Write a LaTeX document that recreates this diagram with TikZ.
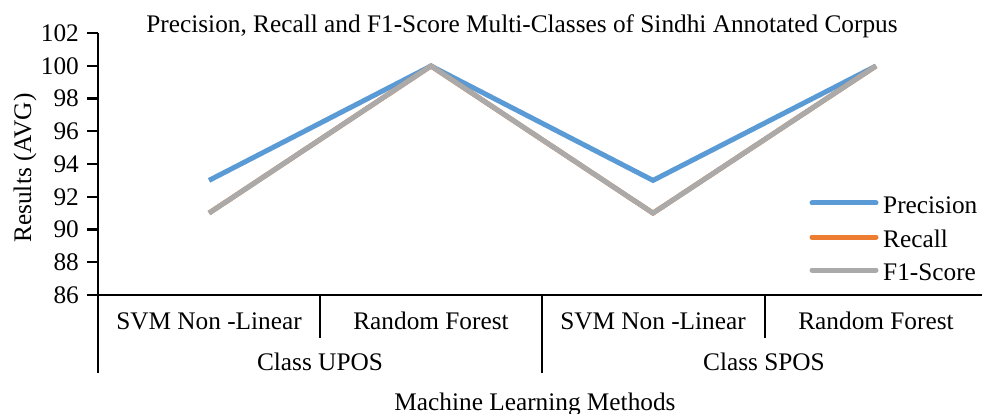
\documentclass[tikz,border=0pt]{standalone}
\usepackage{fontspec}
\setmainfont{Liberation Serif}
\definecolor{cprec}{HTML}{5B9BD5}
\definecolor{crec}{HTML}{ED7D31}
\definecolor{cf1}{HTML}{AAAAAA}
\begin{document}
\begin{tikzpicture}[x=1pt,y=-1pt,
  font=\fontsize{25.3}{30}\selectfont,
  axisline/.style={line width=2.2pt, black},
  serie/.style={line width=5pt, line join=miter},
  legline/.style={line width=5pt, line cap=round},
  lbl/.style={inner sep=0pt}]
\useasboundingbox (0,0) rectangle (982,414);
\clip (0,0) rectangle (982,414);
% title
\node[lbl] (title) at (522,26) {Precision, Recall and F1-Score Multi-Classes of Sindhi Annotated Corpus};
% y axis
\coordinate (ytop) at (98,33);
\coordinate (ybot) at (98,373);
\draw[axisline] (ytop) -- (ybot);
\foreach \v/\n in {86/a,88/b,90/c,92/d,94/e,96/f,98/g,100/h,102/i}{
  \pgfmathsetmacro{\yy}{295-(\v-86)*16.375}
  \coordinate (t\n) at (98,\yy);
  \coordinate (s\n) at (87,\yy);
  \draw[axisline] (s\n) -- (t\n);
  \node[lbl, anchor=east] (l\n) at (79,\yy) {\v};
}
\node[lbl, rotate=90] (ylab) at (25,168) {Results (AVG)};
% x axis
\coordinate (xend) at (990,295);
\draw[axisline] (ta) -- (xend);
\coordinate (d1a) at (320,295); \coordinate (d1b) at (320,338);
\coordinate (d2a) at (542,295); \coordinate (d2b) at (542,373);
\coordinate (d3a) at (765,295); \coordinate (d3b) at (765,338);
\draw[axisline] (d1a) -- (d1b);
\draw[axisline] (d2a) -- (d2b);
\draw[axisline] (d3a) -- (d3b);
\node[lbl] (c1) at (209,321) {SVM Non -Linear};
\node[lbl] (c2) at (431,321) {Random Forest};
\node[lbl] (c3) at (653,321) {SVM Non -Linear};
\node[lbl] (c4) at (876,321) {Random Forest};
\node[lbl] (g1) at (320,362) {Class UPOS};
\node[lbl] (g2) at (764,362) {Class SPOS};
\node[lbl] (xlab) at (535,404) {Machine Learning Methods};
% data
\coordinate (p1) at (209,180.4); \coordinate (p2) at (431,66); \coordinate (p3) at (653,180.4); \coordinate (p4) at (876,66);
\coordinate (f1) at (209,213.1); \coordinate (f2) at (431,66); \coordinate (f3) at (653,213.1); \coordinate (f4) at (876,66);
\draw[serie, cprec] (p1) -- (p2) -- (p3) -- (p4);
\draw[serie, crec] (f1) -- (f2) -- (f3) -- (f4);
\draw[serie, cf1] (f1) -- (f2) -- (f3) -- (f4);
% legend
\coordinate (lpa) at (812,203); \coordinate (lpb) at (876,203);
\coordinate (lra) at (812,237); \coordinate (lrb) at (876,237);
\coordinate (lfa) at (812,270); \coordinate (lfb) at (876,270);
\draw[legline, cprec] (lpa) -- (lpb);
\draw[legline, crec] (lra) -- (lrb);
\draw[legline, cf1] (lfa) -- (lfb);
\node[lbl, anchor=west] (lp) at (883,205) {Precision};
\node[lbl, anchor=west] (lr) at (883,239) {Recall};
\node[lbl, anchor=west] (lf) at (883,272) {F1-Score};
\end{tikzpicture}
\end{document}
